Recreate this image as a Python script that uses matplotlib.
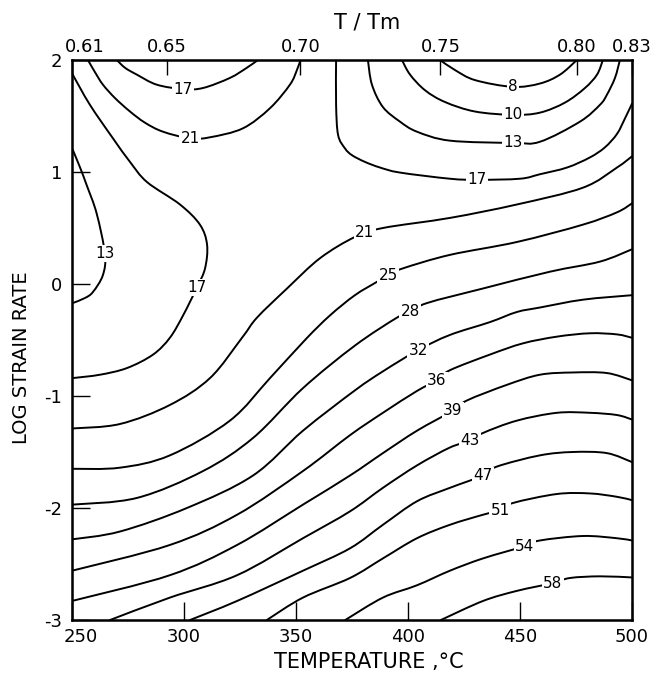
import matplotlib
matplotlib.use("Agg")
import matplotlib.pyplot as plt
from matplotlib.path import Path
from matplotlib.patches import PathPatch
from matplotlib.transforms import ScaledTranslation

# efficiency contours, points are (temperature C, log strain rate)
eff_8 = [(414.3, 2.0), (421.0, 1.91), (430.0, 1.82), (446.9, 1.76), (458.9, 1.79),
         (467.9, 1.87), (475.4, 2.0)]
eff_10 = [(397.3, 2.0), (400.9, 1.87), (407.6, 1.73), (416.5, 1.625), (429.9, 1.54),
          (446.9, 1.51), (458.9, 1.53), (470.1, 1.62), (479.0, 1.75), (484.4, 1.87),
          (487.0, 2.0)]
eff_13_right = [(382.1, 2.0), (383.9, 1.78), (388.8, 1.58), (396.4, 1.45), (404.0, 1.36),
                (418.7, 1.28), (446.9, 1.26), (458.9, 1.27), (476.8, 1.45), (485.7, 1.60),
                (488.8, 1.69), (492.4, 1.84), (494.6, 2.0)]
eff_13_left = [(250.3, 1.20), (253.6, 1.04), (256.6, 0.88), (261.0, 0.63),
               (264.7, 0.27), (263.8, 0.08), (259.4, -0.07), (255.8, -0.125), (250.3, -0.17)]
eff_17_top = [(270.0, 2.0), (273.7, 1.93), (278.9, 1.87), (287.8, 1.78), (299.6, 1.74),
              (308.5, 1.75), (320.5, 1.84), (328.0, 1.93), (333.0, 2.0)]
eff_17_left = [(250.3, 1.87), (258.0, 1.60), (268.3, 1.30), (275.9, 1.09), (283.5, 0.91),
               (298.2, 0.71), (307.1, 0.53), (310.3, 0.35), (309.4, 0.14),
               (305.8, -0.03), (299.6, -0.28), (293.7, -0.48), (286.2, -0.63), (274.6, -0.75),
               (262.5, -0.81), (250.3, -0.84)]
eff_17_right = [(367.9, 2.0), (367.9, 1.60), (368.8, 1.33), (371.9, 1.21), (375.0, 1.15),
                (380.8, 1.09), (387.5, 1.04), (396.4, 0.995), (418.7, 0.94), (430.8, 0.93),
                (450.0, 0.94), (458.9, 0.98), (471.0, 1.04), (481.2, 1.13), (487.9, 1.22),
                (493.3, 1.34), (496.9, 1.48), (500.0, 1.61)]
eff_21_top = [(257.1, 2.0), (260.3, 1.89), (263.8, 1.78), (269.2, 1.66), (275.9, 1.54),
              (282.6, 1.44), (290.6, 1.36), (302.7, 1.30), (311.6, 1.31), (326.3, 1.39),
              (338.4, 1.57), (347.3, 1.78), (350.4, 1.91), (352.0, 2.0)]
eff_21 = [(250.0, -1.29), (271.4, -1.25), (293.7, -1.08), (311.6, -0.84), (325.9, -0.48),
          (332.6, -0.30), (346.0, -0.04), (360.7, 0.23), (376.3, 0.42),
          (388.8, 0.50), (418.7, 0.59), (448.6, 0.71), (478.1, 0.86), (493.3, 1.04),
          (500.0, 1.14)]
eff_25 = [(250.0, -1.65), (271.4, -1.64), (293.7, -1.53), (320.5, -1.22), (338.4, -0.84),
          (354.5, -0.49), (365.2, -0.28), (376.3, -0.10), (386.2, 0.02), (391.1, 0.08),
          (397.8, 0.14), (418.7, 0.26), (448.6, 0.375), (478.1, 0.53), (493.3, 0.64),
          (500.0, 0.72)]
eff_28 = [(250.0, -1.97), (279.0, -1.91), (308.5, -1.67), (330.8, -1.375), (353.1, -0.93),
          (376.3, -0.55), (395.1, -0.30), (400.9, -0.25), (408.5, -0.17),
          (433.5, -0.04), (463.4, 0.11), (485.7, 0.20), (500.0, 0.31)]
eff_32 = [(250.0, -2.28), (271.4, -2.21), (301.3, -2.0), (330.8, -1.71), (353.1, -1.31),
          (376.3, -0.95), (388.8, -0.78), (404.5, -0.59), (418.7, -0.455), (436.6, -0.34),
          (448.6, -0.25), (458.9, -0.21), (478.1, -0.14), (500.0, -0.10)]
eff_36 = [(250.0, -2.56), (293.7, -2.33), (323.7, -2.06), (353.1, -1.67), (374.1, -1.35),
          (388.8, -1.15), (404.0, -0.955), (412.9, -0.86), (418.7, -0.77), (436.6, -0.63),
          (451.3, -0.53), (466.5, -0.47), (481.2, -0.44), (493.3, -0.45), (500.0, -0.48)]
eff_39 = [(250.0, -2.83), (293.7, -2.60), (323.7, -2.33), (353.1, -1.97), (374.1, -1.71),
          (388.8, -1.51), (404.0, -1.31), (420.1, -1.13), (426.3, -1.04), (444.2, -0.90),
          (458.9, -0.81), (473.6, -0.79), (488.8, -0.795), (500.0, -0.86)]
eff_43 = [(267.0, -3.0), (293.7, -2.80), (323.7, -2.60), (353.1, -2.27), (374.1, -2.03),
          (388.8, -1.82), (404.0, -1.62), (418.7, -1.46), (427.7, -1.40), (433.5, -1.33),
          (448.6, -1.22), (466.5, -1.15), (481.2, -1.15), (493.3, -1.17), (500.0, -1.21)]
eff_47 = [(302.7, -3.0), (323.7, -2.83), (353.1, -2.56), (374.1, -2.36), (388.8, -2.15),
          (404.0, -1.94), (418.7, -1.82), (433.5, -1.71), (439.7, -1.63), (458.9, -1.53),
          (473.6, -1.50), (488.8, -1.51), (500.0, -1.59)]
eff_51 = [(337.0, -3.0), (353.1, -2.80), (374.1, -2.625), (388.8, -2.45), (404.0, -2.27),
          (418.7, -2.15), (433.5, -2.06), (441.1, -2.02), (446.9, -1.955), (466.5, -1.875),
          (481.2, -1.87), (493.3, -1.90), (500.0, -1.93)]
eff_54 = [(372.0, -3.0), (388.8, -2.80), (404.0, -2.69), (418.7, -2.56), (433.5, -2.45),
          (452.2, -2.34), (458.9, -2.29), (478.1, -2.25), (493.3, -2.27), (500.0, -2.29)]
eff_58 = [(414.7, -3.0), (433.5, -2.83), (448.6, -2.74), (464.7, -2.67), (472.3, -2.625),
          (485.7, -2.61), (500.0, -2.62)]

all_lines = [eff_8, eff_10, eff_13_right, eff_13_left, eff_17_top, eff_17_left,
             eff_17_right, eff_21_top, eff_21, eff_25, eff_28, eff_32, eff_36, eff_39,
             eff_43, eff_47, eff_51, eff_54, eff_58]

# contour labels: text and where it sits
lab_text = ['8', '10', '13', '13', '17', '17', '17', '21', '21', '25', '28', '32', '36',
            '39', '43', '47', '51', '54', '58']
lab_T = [446.9, 446.9, 446.9, 264.7, 299.6, 305.8, 430.8, 302.7, 380.8, 391.1, 400.9,
         404.5, 412.9, 420.1, 427.7, 433.5, 441.1, 452.2, 464.7]
lab_L = [1.76, 1.51, 1.26, 0.27, 1.74, -0.03, 0.93, 1.30, 0.46, 0.08, -0.25, -0.59,
         -0.86, -1.13, -1.40, -1.71, -2.02, -2.34, -2.67]

temp_ticks = [250, 300, 350, 400, 450, 500]
rate_ticks = [2, 1, 0, -1, -2, -3]
rate_labels = ['2', '1', '0', '-1', '-2', '-3']
tm_labels = ['0.61', '0.65', '0.70', '0.75', '0.80', '0.83']
tm_at_temp = [250, 292.5, 352, 414.5, 475.5, 500]


def smooth_path(pts):
    verts = [pts[0]]
    codes = [Path.MOVETO]
    n = len(pts)
    for i in range(n - 1):
        p0 = pts[i - 1] if i > 0 else pts[i]
        p1 = pts[i]
        p2 = pts[i + 1]
        p3 = pts[i + 2] if i + 2 < n else pts[i + 1]
        c1 = (p1[0] + (p2[0] - p0[0]) / 6, p1[1] + (p2[1] - p0[1]) / 6)
        c2 = (p2[0] - (p3[0] - p1[0]) / 6, p2[1] - (p3[1] - p1[1]) / 6)
        verts += [c1, c2, p2]
        codes += [Path.CURVE4] * 3
    return Path(verts, codes)


fig = plt.figure(figsize=(6.69, 6.77), dpi=100)
ax = fig.add_axes([72 / 669, 1 - 620 / 677, 560 / 669, 560 / 677])

for line in all_lines:
    ax.add_patch(PathPatch(smooth_path(line), fc='none', ec='black', lw=1.4,
                           joinstyle='round', capstyle='round'))

for txt, t, l in zip(lab_text, lab_T, lab_L):
    ax.text(t, l, txt, fontsize=11, ha='center', va='center', zorder=5,
            bbox=dict(boxstyle='square,pad=0.08', fc='white', ec='none'))

ax.set_xlim(250, 500)
ax.set_ylim(-3, 2)
for s in ax.spines.values():
    s.set_linewidth(1.8)

ax.set_xticks(temp_ticks)
ax.set_xticklabels([str(t) for t in temp_ticks])
ax.set_yticks(rate_ticks)
ax.set_yticklabels(rate_labels)
ax.tick_params(axis='both', direction='in', length=13, width=1.0, labelsize=13)
ax.tick_params(axis='x', pad=6)
ax.tick_params(axis='y', pad=7)

# nudge the corner label a bit right like the original
lbl = ax.get_xticklabels()[0]
lbl.set_transform(lbl.get_transform() + ScaledTranslation(0.09, 0, fig.dpi_scale_trans))

top = ax.twiny()
top.set_xlim(250, 500)
top.set_xticks(tm_at_temp)
top.set_xticklabels(tm_labels)
top.tick_params(axis='x', direction='in', length=11, width=1.0, labelsize=13, pad=3)
tl = top.get_xticklabels()[0]
tl.set_transform(tl.get_transform() + ScaledTranslation(0.13, 0, fig.dpi_scale_trans))

fig.text(367 / 669, 1 - 22 / 677, 'T / Tm', fontsize=15, ha='center', va='center')
fig.text(369 / 669, 1 - 662 / 677, 'TEMPERATURE ,°C', fontsize=15, ha='center', va='center')
fig.text(22 / 669, 1 - 358 / 677, 'LOG STRAIN RATE', fontsize=14, ha='center',
         va='center', rotation=90)

fig.savefig('out.png', dpi=100)
